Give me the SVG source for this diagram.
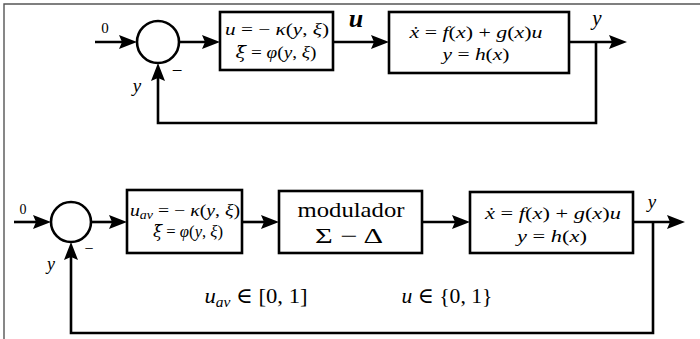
<svg xmlns="http://www.w3.org/2000/svg" width="700" height="339" viewBox="0 0 700 339">
<style>
text{font-family:"Liberation Serif","DejaVu Serif",serif;fill:#000;text-anchor:middle}
.s{text-anchor:start}
.i{font-style:italic}
.dj{font-family:"DejaVu Serif",serif}
.ln{fill:none;stroke:#000;stroke-width:2.6}
.box{fill:#fff;stroke:#000;stroke-width:2.6}
.frame{fill:none;stroke:#555;stroke-width:1.4}
</style>
<defs>
<marker id="ah" viewBox="0 0 18 14" refX="12" refY="7" markerWidth="18" markerHeight="14" markerUnits="userSpaceOnUse" orient="auto">
<path d="M0,0 L18,7 L0,14 L3,7 Z" fill="#000"/>
</marker>
</defs>
<rect width="700" height="339" fill="#fff"/>
<path class="frame" d="M4,339 V4 H700"/>

<g id="connectors">
<path class="ln" d="M95,42 H131" marker-end="url(#ah)"/>
<path class="ln" d="M179,42 H214" marker-end="url(#ah)"/>
<path class="ln" d="M333,42 H383" marker-end="url(#ah)"/>
<path class="ln" d="M569,42 H621" marker-end="url(#ah)"/>
<path class="ln" d="M596,42 V123 H158 V69" marker-end="url(#ah)"/>
<path class="ln" d="M14,222 H45" marker-end="url(#ah)"/>
<path class="ln" d="M91,222 H121" marker-end="url(#ah)"/>
<path class="ln" d="M242,222 H273" marker-end="url(#ah)"/>
<path class="ln" d="M422,222 H464" marker-end="url(#ah)"/>
<path class="ln" d="M633,222 H679" marker-end="url(#ah)"/>
<path class="ln" d="M653,222 V333 H71 V248" marker-end="url(#ah)"/>
<text x="105" y="33" font-size="15">0</text>
<text class="i" x="356" y="27" font-size="26" font-weight="bold">u</text>
<text class="i" x="597" y="25" font-size="21">y</text>
<text class="i" x="137" y="92" font-size="19">y</text>
<text x="177" y="77" font-size="19">−</text>
<text x="23" y="214" font-size="14">0</text>
<text class="i" x="51" y="270" font-size="18">y</text>
<text x="89" y="254" font-size="16">−</text>
<text class="i" x="652" y="208" font-size="19">y</text>
</g>

<g id="sum1"><circle class="box" cx="158" cy="42" r="21"/></g>
<g id="ctrl1">
<rect class="box" x="220" y="12" width="113" height="58"/>
<text x="277" y="35" font-size="17" textLength="104" lengthAdjust="spacingAndGlyphs"><tspan class="i">u</tspan> = − <tspan class="i">κ</tspan>(<tspan class="i">y</tspan>, <tspan class="i">ξ</tspan>)</text>
<text x="276" y="58" font-size="17" textLength="81" lengthAdjust="spacingAndGlyphs"><tspan class="i dj">ξ̇</tspan> = <tspan class="i">φ</tspan>(<tspan class="i">y</tspan>, <tspan class="i">ξ</tspan>)</text>
</g>
<g id="plant1">
<rect class="box" x="389" y="12" width="180" height="61"/>
<text x="476" y="38" font-size="17" textLength="133" lengthAdjust="spacingAndGlyphs"><tspan class="i">ẋ</tspan> = <tspan class="i">f</tspan>(<tspan class="i">x</tspan>) + <tspan class="i">g</tspan>(<tspan class="i">x</tspan>)<tspan class="i">u</tspan></text>
<text x="476" y="60" font-size="17" textLength="67" lengthAdjust="spacingAndGlyphs"><tspan class="i">y</tspan> = <tspan class="i">h</tspan>(<tspan class="i">x</tspan>)</text>
</g>

<g id="sum2"><circle class="box" cx="71" cy="222" r="20"/></g>
<g id="ctrl2">
<rect class="box" x="127" y="190" width="115" height="63"/>
<text x="185" y="216" font-size="17" textLength="110" lengthAdjust="spacingAndGlyphs"><tspan class="i">u</tspan><tspan class="i" font-size="12" dy="3">av</tspan><tspan dy="-3"> = − </tspan><tspan class="i">κ</tspan>(<tspan class="i">y</tspan>, <tspan class="i">ξ</tspan>)</text>
<text x="188" y="237" font-size="17" textLength="70" lengthAdjust="spacingAndGlyphs"><tspan class="i dj">ξ̇</tspan> = <tspan class="i">φ</tspan>(<tspan class="i">y</tspan>, <tspan class="i">ξ</tspan>)</text>
</g>
<g id="modulador">
<rect class="box" x="279" y="191" width="143" height="62"/>
<text x="351" y="217" font-size="21" textLength="107" lengthAdjust="spacingAndGlyphs">modulador</text>
<text x="349" y="243" font-size="21" textLength="68" lengthAdjust="spacingAndGlyphs">Σ − Δ</text>
</g>
<g id="plant2">
<rect class="box" x="470" y="192" width="163" height="61"/>
<text x="553" y="219" font-size="17" textLength="136" lengthAdjust="spacingAndGlyphs"><tspan class="i">ẋ</tspan> = <tspan class="i">f</tspan>(<tspan class="i">x</tspan>) + <tspan class="i">g</tspan>(<tspan class="i">x</tspan>)<tspan class="i">u</tspan></text>
<text x="552" y="242" font-size="17" textLength="70" lengthAdjust="spacingAndGlyphs"><tspan class="i">y</tspan> = <tspan class="i">h</tspan>(<tspan class="i">x</tspan>)</text>
</g>
<g id="labels">
<text x="256" y="303" font-size="22" textLength="103" lengthAdjust="spacingAndGlyphs"><tspan class="i">u</tspan><tspan class="i" font-size="15" dy="4">av</tspan><tspan dy="-4"> ∈ [0, 1]</tspan></text>
<text x="447" y="303" font-size="22" textLength="91" lengthAdjust="spacingAndGlyphs"><tspan class="i">u</tspan> ∈ {0, 1}</text>
</g>
</svg>
